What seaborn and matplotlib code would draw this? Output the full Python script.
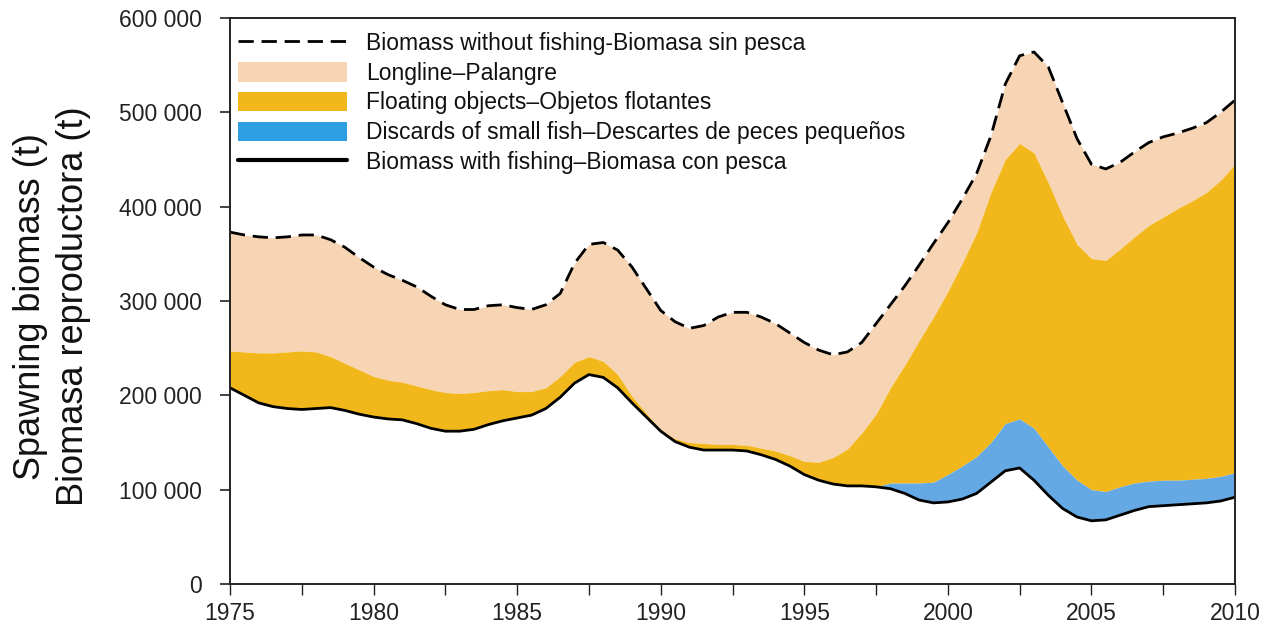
import numpy as np
import matplotlib
matplotlib.use("Agg")
import matplotlib.pyplot as plt
import seaborn as sns
from matplotlib.patches import Patch
from matplotlib.lines import Line2D
from matplotlib.ticker import FuncFormatter, MultipleLocator

# ---------------- data (tonnes) ----------------
years = np.arange(1975, 2010.01, 0.5)

biomass_without_fishing = [
    373, 370, 368, 367, 368, 370, 370, 365, 357, 346,
    336, 328, 322, 315, 305, 296, 291, 291, 295, 296,
    293, 291, 296, 308, 340, 360, 362, 354, 336, 313,
    290, 278, 271, 274, 283, 288, 288, 283, 276, 266,
    256, 248, 243, 246, 256, 276, 296, 316, 338, 361,
    383, 408, 435, 475, 530, 560, 564, 548, 510, 472,
    445, 440, 447, 458, 468, 474, 478, 483, 489, 500, 513]

longline_lower = [
    247, 246, 245, 245, 246, 247, 246, 241, 234, 227,
    220, 216, 214, 210, 206, 203, 202, 203, 205, 206,
    204, 204, 208, 220, 235, 241, 236, 222, 199, 181,
    163, 154, 150, 149, 148, 148, 147, 144, 141, 136,
    130, 129, 134, 143, 160, 180, 208, 232, 258, 283,
    310, 340, 372, 415, 450, 467, 457, 425, 390, 360,
    345, 343, 355, 368, 380, 389, 398, 406, 415, 428, 445]

discards_upper = [
    208, 200, 192, 188, 186, 185, 186, 187, 184, 180,
    177, 175, 174, 170, 165, 162, 162, 164, 169, 173,
    176, 179, 186, 198, 213, 222, 219, 208, 192, 177,
    162, 151, 145, 142, 142, 142, 141, 137, 132, 125,
    116, 110, 106, 104, 104, 103, 107, 107, 107, 108,
    116, 125, 135, 150, 170, 175, 165, 145, 125, 110,
    100, 98, 103, 107, 109, 110, 110, 111, 112, 114, 118]

biomass_with_fishing = [
    208, 200, 192, 188, 186, 185, 186, 187, 184, 180,
    177, 175, 174, 170, 165, 162, 162, 164, 169, 173,
    176, 179, 186, 198, 213, 222, 219, 208, 192, 177,
    162, 151, 145, 142, 142, 142, 141, 137, 132, 125,
    116, 110, 106, 104, 104, 103, 101, 96, 89, 86,
    87, 90, 96, 108, 120, 123, 110, 94, 80, 71,
    67, 68, 73, 78, 82, 83, 84, 85, 86, 88, 92]

labels = [
    "Biomass without fishing-Biomasa sin pesca",
    "Longline\u2013Palangre",
    "Floating objects\u2013Objetos flotantes",
    "Discards of small fish\u2013Descartes de peces peque\u00f1os",
    "Biomass with fishing\u2013Biomasa con pesca",
]
y_ticks = [0, 100000, 200000, 300000, 400000, 500000, 600000]
x_label_years = [1975, 1980, 1985, 1990, 1995, 2000, 2005, 2010]

scale = 1000.0
total = np.array(biomass_without_fishing) * scale
ll_low = np.array(longline_lower) * scale
disc_up = np.array(discards_upper) * scale
with_f = np.array(biomass_with_fishing) * scale

# ---------------- style ----------------
sns.set_style("ticks")
plt.rcParams["font.family"] = ["Liberation Sans", "DejaVu Sans"]

c_longline = "#F7D4B3"
c_float = "#F2B81B"
c_disc = "#64A9E4"
c_disc_leg = "#2E9FE2"

fig = plt.figure(figsize=(12.66, 6.32), dpi=100)
ax = fig.add_axes([230 / 1266, 1 - 584 / 632, 1005 / 1266, (584 - 18) / 632])

ax.fill_between(years, ll_low, total, color=c_longline, lw=0)
ax.fill_between(years, disc_up, ll_low, color=c_float, lw=0)
ax.fill_between(years, with_f, disc_up, color=c_disc, lw=0)

sns.lineplot(x=years, y=total, ax=ax, color="black", lw=2.0, legend=False)
ax.lines[-1].set_dashes((5.5, 2.8))
ax.lines[-1].set_solid_joinstyle("round")
ax.lines[-1].set_dash_joinstyle("round")
sns.lineplot(x=years, y=with_f, ax=ax, color="black", lw=2.0, legend=False)
ax.lines[-1].set_solid_joinstyle("round")

ax.set_xlim(1975, 2010)
ax.set_ylim(0, 600000)
ax.xaxis.set_major_locator(MultipleLocator(2.5))
ax.xaxis.set_major_formatter(FuncFormatter(
    lambda v, p: f"{int(round(v))}" if abs(v - round(v)) < 1e-6 and int(round(v)) in x_label_years else ""))
ax.set_yticks(y_ticks)
ax.yaxis.set_major_formatter(FuncFormatter(
    lambda v, p: f"{int(v):,}".replace(",", " ")))

for side in ["left", "right", "top", "bottom"]:
    ax.spines[side].set_visible(True)
    ax.spines[side].set_linewidth(1.4)
    ax.spines[side].set_color("#222222")

ax.tick_params(axis="y", direction="out", length=7, width=1.2,
               labelsize=16.5, pad=13, colors="#222222")
ax.tick_params(axis="x", direction="out", length=8, width=1.0,
               labelsize=16.5, pad=5, colors="#222222")

ax.set_xlabel("")
ax.set_ylabel("Spawning biomass (t)\nBiomasa reproductora (t)",
              fontsize=26, linespacing=1.3, color="#111111")
ax.yaxis.set_label_coords(-0.138, 0.49)

handles = [
    Line2D([0], [0], color="black", lw=2.0, dashes=(5.5, 2.8)),
    Patch(facecolor=c_longline, edgecolor="none"),
    Patch(facecolor=c_float, edgecolor="none"),
    Patch(facecolor=c_disc_leg, edgecolor="none"),
    Line2D([0], [0], color="black", lw=3.0),
]
leg = ax.legend(handles, labels, loc="upper left", bbox_to_anchor=(0.0, 0.99),
                frameon=False, fontsize=16.5, handlelength=4.75, handleheight=0.95,
                handletextpad=0.85, labelspacing=0.3, borderpad=0.15,
                borderaxespad=0.2)
for t in leg.get_texts():
    t.set_color("#111111")

fig.savefig("out.png", dpi=100)
